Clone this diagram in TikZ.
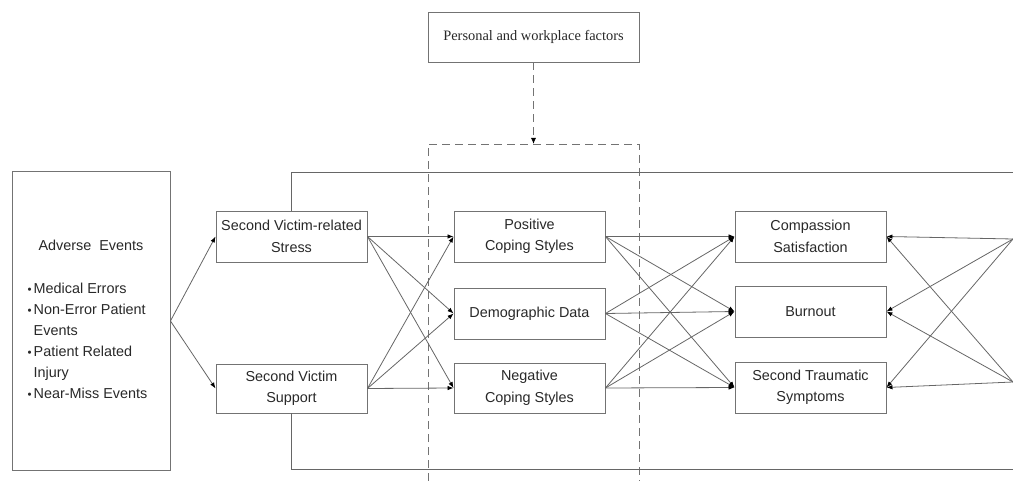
\documentclass[tikz,border=0pt]{standalone}
\usepackage{fontspec}
\setmainfont{Liberation Sans}
\newfontfamily\serifface{Liberation Serif}
\usetikzlibrary{arrows.meta}

\definecolor{inkgray}{RGB}{40,40,40}
\newcommand{\dotmark}{\raisebox{0.5pt}{\scalebox{0.8}{\textbullet}}}

\tikzset{
  box/.style={draw=black!55, line width=0.9pt, align=center, inner sep=0pt,
    minimum width=151pt, minimum height=51pt, text=inkgray,
    font=\fontsize{14.4}{21.5}\selectfont},
  link/.style={draw=black!60, line width=0.8pt,
    -{Latex[length=6pt,width=4.5pt,color=black]}},
  plain/.style={draw=black!60, line width=0.9pt},
  dashedline/.style={draw=black!55, line width=0.9pt, dash pattern=on 8pt off 5pt},
}

\begin{document}
\begin{tikzpicture}[x=1pt,y=-1pt]
\useasboundingbox (0,0) rectangle (1013,481);

% moderating factors
\node[box, minimum width=211pt, minimum height=50pt,
      font=\serifface\fontsize{14.4}{17}\selectfont] (pf) at (533.5,37) {Personal and workplace factors};
\coordinate (dtop) at (533.5,144);
\draw[dashedline] (428,481) -- (428,144) -- (639,144) -- (639,481);
\draw[dashedline, -{Latex[length=6pt,width=5pt,color=black]}] (pf.south) -- (dtop);

% adverse events
\node[box, minimum width=158pt, minimum height=299pt] (ae) at (91,321) {};
\node[text=inkgray, font=\fontsize{14.4}{21}\selectfont] (aet) at (91,245) {Adverse\ \ Events};
\node[anchor=north west, inner sep=0pt, text=inkgray, font=\fontsize{14.4}{21}\selectfont] (ael) at (27.5,279)
  {\begin{tabular}{@{}l@{\hspace{2pt}}l@{}}
   \dotmark & Medical Errors\\
   \dotmark & Non-Error Patient\\
            & Events\\
   \dotmark & Patient Related\\
            & Injury\\
   \dotmark & Near-Miss Events
   \end{tabular}};

% second victim column
\node[box] (svs) at (291.5,236.5) {Second Victim-related\\Stress};
\node[box, minimum height=49pt] (svp) at (291.5,388.5) {Second Victim\\Support};

% mediator column
\node[box] (pos) at (529.5,236.5) {Positive\\Coping Styles};
\node[box] (dem) at (529.5,313.5) {Demographic Data};
\node[box, minimum height=50pt] (neg) at (529.5,388) {Negative\\Coping Styles};

% outcome column
\node[box] (cs) at (810.5,236.5) {Compassion\\Satisfaction};
\node[box] (bo) at (810.5,311.5) {Burnout};
\node[box] (st) at (810.5,387.5) {Second Traumatic\\Symptoms};

% free ends at the right margin
\coordinate (ra) at (1013,239);
\coordinate (rb) at (1013,382);
\coordinate (tr) at (1013,172);
\coordinate (br) at (1013,469);

% feedback lines along top and bottom
\draw[plain] (svs.north) |- (tr);
\draw[plain] (svp.south) |- (br);

% adverse events to second victim
\draw[link] (ae.east) -- (svs.west);
\draw[link] (ae.east) -- (svp.west);

% second victim to mediators
\foreach \s in {svs,svp}
  \foreach \t in {pos,dem,neg}
    \draw[link] (\s.east) -- (\t.west);

% mediators to outcomes
\foreach \s in {pos,dem,neg}
  \foreach \t in {cs,bo,st}
    \draw[link] (\s.east) -- (\t.west);

% right margin to outcomes
\foreach \s in {ra,rb}
  \foreach \t in {cs,bo,st}
    \draw[link] (\s) -- (\t.east);
\end{tikzpicture}
\end{document}
